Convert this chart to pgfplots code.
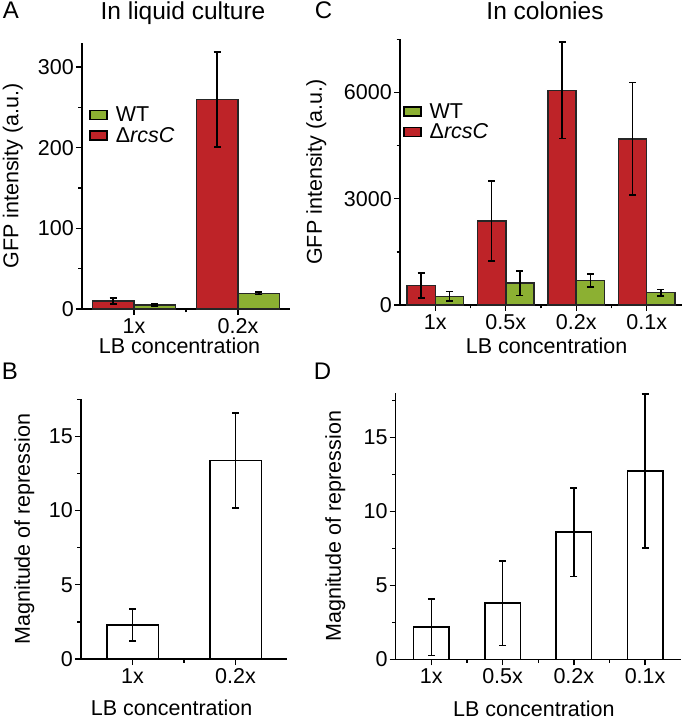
\documentclass[border=0pt]{standalone}
\usepackage{fontspec}
\setmainfont{Liberation Sans}
\usepackage{pgfplots}
\pgfplotsset{compat=1.18}
\definecolor{barred}{RGB}{190,35,40}
\definecolor{bargreen}{RGB}{140,176,50}
\pgfplotsset{
  panel/.style={
    scale only axis, clip=false,
    axis lines*=left,
    axis line style={line width=1.4pt, -},
    tick align=outside,
    major tick length=6pt, minor tick length=3.5pt,
    tick style={line width=1.4pt, black},
    /pgf/number format/assume math mode=true,
    /pgf/number format/1000 sep={},
    yticklabel style={inner xsep=2pt},
    xmin=0.5, ymin=0,
    legend style={draw=none, fill=none, anchor=north west, row sep=0pt, column sep=6pt, cells={anchor=west}},
  },
  errs/.style={error bars/.cd, y dir=both, y explicit,
    error bar style={line width=1.6pt, black},
    error mark options={rotate=90, line width=1.6pt, black, mark size=3.5pt}},
  boxleg/.style={legend image code/.code={\draw[##1, draw=black, line width=1.5pt] (0pt,-4.5pt) rectangle (17pt,4.5pt);}},
}
\begin{document}
\begin{tikzpicture}[font=\fontsize{21.5}{25}\selectfont]
\useasboundingbox (0,0) rectangle (685pt,721pt);
% Panel A
\begin{axis}[panel, at={(82pt,412pt)}, anchor=south west, width=208pt, height=266pt,
  xmax=2.5, ymax=330,
  xtick={1,2}, xticklabels={1x,0.2x}, minor xtick={1.5},
  ytick={0,100,200,300}, minor ytick={50,150,250},
  ylabel={GFP intensity (a.u.)},
  ylabel style={at={(axis description cs:-0.306,0.5)}, anchor=base},
  xlabel={LB concentration},
  xlabel style={at={(axis description cs:0.469,-0.169)}, anchor=base},
  reverse legend,
  legend style={at={(axis description cs:0.02,0.775)}},
]
\addplot[ybar, bar width=0.4, bar shift=0, fill=barred, draw=black!85, line width=1.5pt, boxleg, errs]
  coordinates {(0.8,10) +- (0,4) (1.8,260) +- (0,59)};
\addplot[ybar, bar width=0.4, bar shift=0, fill=bargreen, draw=black!85, line width=1.5pt, boxleg, errs]
  coordinates {(1.2,5) +- (0,1) (2.2,19.4) +- (0,1.5)};
\legend{Δ\textit{rcsC}, WT}
\end{axis}
% Panel C
\begin{axis}[panel, at={(400pt,416pt)}, anchor=south west, width=282pt, height=265.7pt,
  xmax=4.5, ymax=7500,
  xtick={1,2,3,4}, xticklabels={1x,0.5x,0.2x,0.1x}, minor xtick={1.5,2.5,3.5},
  ytick={0,3000,6000}, minor ytick={1500,4500,7500},
  ylabel={GFP intensity (a.u.)},
  ylabel style={at={(axis description cs:-0.277,0.5)}, anchor=base},
  xlabel={LB concentration},
  xlabel style={at={(axis description cs:0.52,-0.181)}, anchor=base},
  reverse legend,
  legend style={at={(axis description cs:0.0,0.775)}},
]
\addplot[ybar, bar width=0.4, bar shift=0, fill=barred, draw=black!85, line width=1.5pt, boxleg, errs]
  coordinates {(0.8,550) +- (0,360) (1.8,2370) +- (0,1130) (2.8,6060) +- (0,1360) (3.8,4690) +- (0,1585)};
\addplot[ybar, bar width=0.4, bar shift=0, fill=bargreen, draw=black!85, line width=1.5pt, boxleg, errs]
  coordinates {(1.2,245) +- (0,140) (2.2,615) +- (0,350) (3.2,690) +- (0,180) (4.2,350) +- (0,90)};
\legend{Δ\textit{rcsC}, WT}
\end{axis}
% Panel B
\begin{axis}[panel, at={(81pt,62pt)}, anchor=south west, width=206pt, height=259.7pt,
  xmax=2.5, ymax=17.5,
  xtick={1,2}, xticklabels={1x,0.2x}, minor xtick={1.5},
  ytick={0,5,10,15}, minor ytick={2.5,7.5,12.5,17.5},
  ylabel={Magnitude of repression},
  ylabel style={at={(axis description cs:-0.248,0.5)}, anchor=base},
  xlabel={LB concentration},
  xlabel style={at={(axis description cs:0.44,-0.218)}, anchor=base},
]
\addplot[ybar, bar width=0.5, bar shift=0, fill=white, draw=black, line width=1.5pt, errs]
  coordinates {(1,2.3) +- (0,1.07) (2,13.36) +- (0,3.2)};
\end{axis}
% Panel D
\begin{axis}[panel, at={(395.7pt,61.7pt)}, anchor=south west, width=285pt, height=266pt,
  xmax=4.5, ymax=18,
  xtick={1,2,3,4}, xticklabels={1x,0.5x,0.2x,0.1x}, minor xtick={1.5,2.5,3.5},
  ytick={0,5,10,15}, minor ytick={2.5,7.5,12.5,17.5},
  ylabel={Magnitude of repression},
  ylabel style={at={(axis description cs:-0.192,0.5)}, anchor=base},
  xlabel={LB concentration},
  xlabel style={at={(axis description cs:0.485,-0.215)}, anchor=base},
]
\addplot[ybar, bar width=0.5, bar shift=0, fill=white, draw=black, line width=1.5pt, errs]
  coordinates {(1,2.17) +- (0,1.9) (2,3.8) +- (0,2.87) (3,8.6) +- (0,3.0) (4,12.75) +- (0,5.2)};
\end{axis}
% titles and panel letters
\node[anchor=base, font=\fontsize{24.5}{28}\selectfont] at (183pt,701pt) {In liquid culture};
\node[anchor=base, font=\fontsize{24.5}{28}\selectfont] at (545pt,701pt) {In colonies};
\node[anchor=base, font=\fontsize{24}{28}\selectfont] at (11pt,702pt) {A};
\node[anchor=base, font=\fontsize{24}{28}\selectfont] at (323.5pt,702pt) {C};
\node[anchor=base, font=\fontsize{24}{28}\selectfont] at (10pt,341pt) {B};
\node[anchor=base, font=\fontsize{24}{28}\selectfont] at (322.5pt,341pt) {D};
\end{tikzpicture}
\end{document}
